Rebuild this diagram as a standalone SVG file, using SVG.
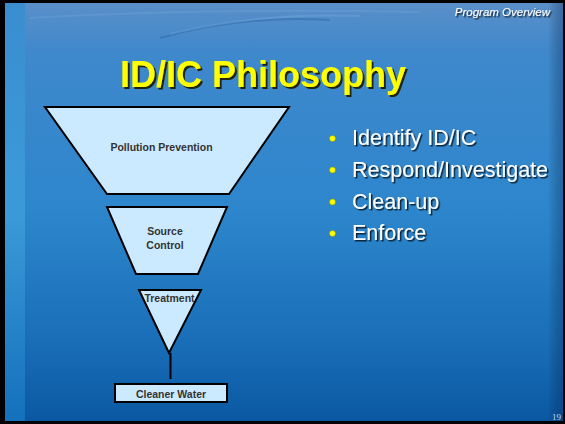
<svg xmlns="http://www.w3.org/2000/svg" width="565" height="424" viewBox="0 0 565 424">
<defs>
<linearGradient id="bg" x1="0" y1="0" x2="0" y2="1">
<stop offset="0" stop-color="#5a8fc8"/>
<stop offset="0.12" stop-color="#3f88cc"/>
<stop offset="0.5" stop-color="#2d86cc"/>
<stop offset="0.8" stop-color="#1a6fb8"/>
<stop offset="1" stop-color="#0a58a2"/>
</linearGradient>
<linearGradient id="strip" x1="0" y1="0" x2="0" y2="1">
<stop offset="0" stop-color="#3a8ed0"/>
<stop offset="0.5" stop-color="#3c9ad8"/>
<stop offset="1" stop-color="#1470bc"/>
</linearGradient>
<linearGradient id="rstrip" x1="0" y1="0" x2="1" y2="0">
<stop offset="0" stop-color="#000" stop-opacity="0"/>
<stop offset="1" stop-color="#002a60" stop-opacity="0.35"/>
</linearGradient>
<filter id="shTitle" x="-10%" y="-30%" width="120%" height="160%">
<feDropShadow dx="2" dy="2" stdDeviation="0.4" flood-color="#1a1a00" flood-opacity="0.95"/>
</filter>
<filter id="shText" x="-10%" y="-30%" width="120%" height="160%">
<feDropShadow dx="1.5" dy="1.5" stdDeviation="0.3" flood-color="#000" flood-opacity="0.75"/>
</filter>
</defs>
<style>
.shape{fill:#cceaff;stroke:#000;stroke-width:2;stroke-linejoin:miter}
.lbl{font-family:"Liberation Sans",Arial,sans-serif;font-weight:bold;font-size:10.5px;fill:#333;text-anchor:middle}
.bul{font-family:"Liberation Sans",Arial,sans-serif;font-size:21.5px;fill:#fff}
.dot{fill:#ffff00;stroke:#8a8a00;stroke-width:0.5}
.conn{stroke:#000;stroke-width:2;fill:none}
</style>
<rect width="565" height="424" fill="#000"/>
<rect x="5" y="3" width="558" height="418" fill="url(#bg)"/>
<rect x="5" y="3" width="20" height="418" fill="url(#strip)"/>
<rect x="548" y="3" width="15" height="418" fill="url(#rstrip)"/>
<g fill="none" stroke-width="2">
<path d="M160 38 Q240 15 330 20" stroke="#1f5c98" stroke-opacity="0.35"/>
<path d="M170 34 Q260 12 360 16" stroke="#9cc6ee" stroke-opacity="0.2"/>
<path d="M30 18 Q200 8 420 12" stroke="#9cc6ee" stroke-opacity="0.15"/>
</g>
<text x="550" y="16" font-family="'Liberation Sans',Arial,sans-serif" font-style="italic" font-size="11.5" fill="#fff" text-anchor="end" filter="url(#shText)">Program Overview</text>
<text x="263" y="87" font-family="'Liberation Sans',Arial,sans-serif" font-weight="bold" font-size="36" fill="#ffff00" text-anchor="middle" filter="url(#shTitle)">ID/IC Philosophy</text>
<g id="pollution-prevention">
<polygon class="shape" points="45,107 289,107 229,194 107,194"/>
<text class="lbl" x="161.5" y="151">Pollution Prevention</text>
</g>
<g id="source-control">
<polygon class="shape" points="107,207 227,207 198,274 136,274"/>
<text class="lbl" x="165" y="235">Source</text>
<text class="lbl" x="165" y="249">Control</text>
</g>
<g id="treatment">
<polygon class="shape" points="139,290 201,290 169,353"/>
<text class="lbl" x="169.5" y="302">Treatment</text>
</g>
<g id="cleaner-water">
<rect class="shape" x="115" y="384" width="112" height="18"/>
<text class="lbl" x="171" y="397.5" font-size="10">Cleaner  Water</text>
</g>
<g id="connectors">
<line class="conn" x1="170.5" y1="353" x2="170.5" y2="379"/>
</g>
<g id="bullets">
<circle class="dot" cx="332.5" cy="138.5" r="3"/>
<circle class="dot" cx="332.5" cy="170" r="3"/>
<circle class="dot" cx="332.5" cy="202" r="3"/>
<circle class="dot" cx="332.5" cy="233.5" r="3"/>
<g filter="url(#shText)">
<text class="bul" x="352" y="145">Identify ID/IC</text>
<text class="bul" x="352" y="176.5">Respond/Investigate</text>
<text class="bul" x="352" y="208.5">Clean-up</text>
<text class="bul" x="352" y="240">Enforce</text>
</g>
</g>
<text x="561" y="420" font-family="'Liberation Serif',serif" font-size="9" fill="#c8d8e8" text-anchor="end">19</text>
</svg>
